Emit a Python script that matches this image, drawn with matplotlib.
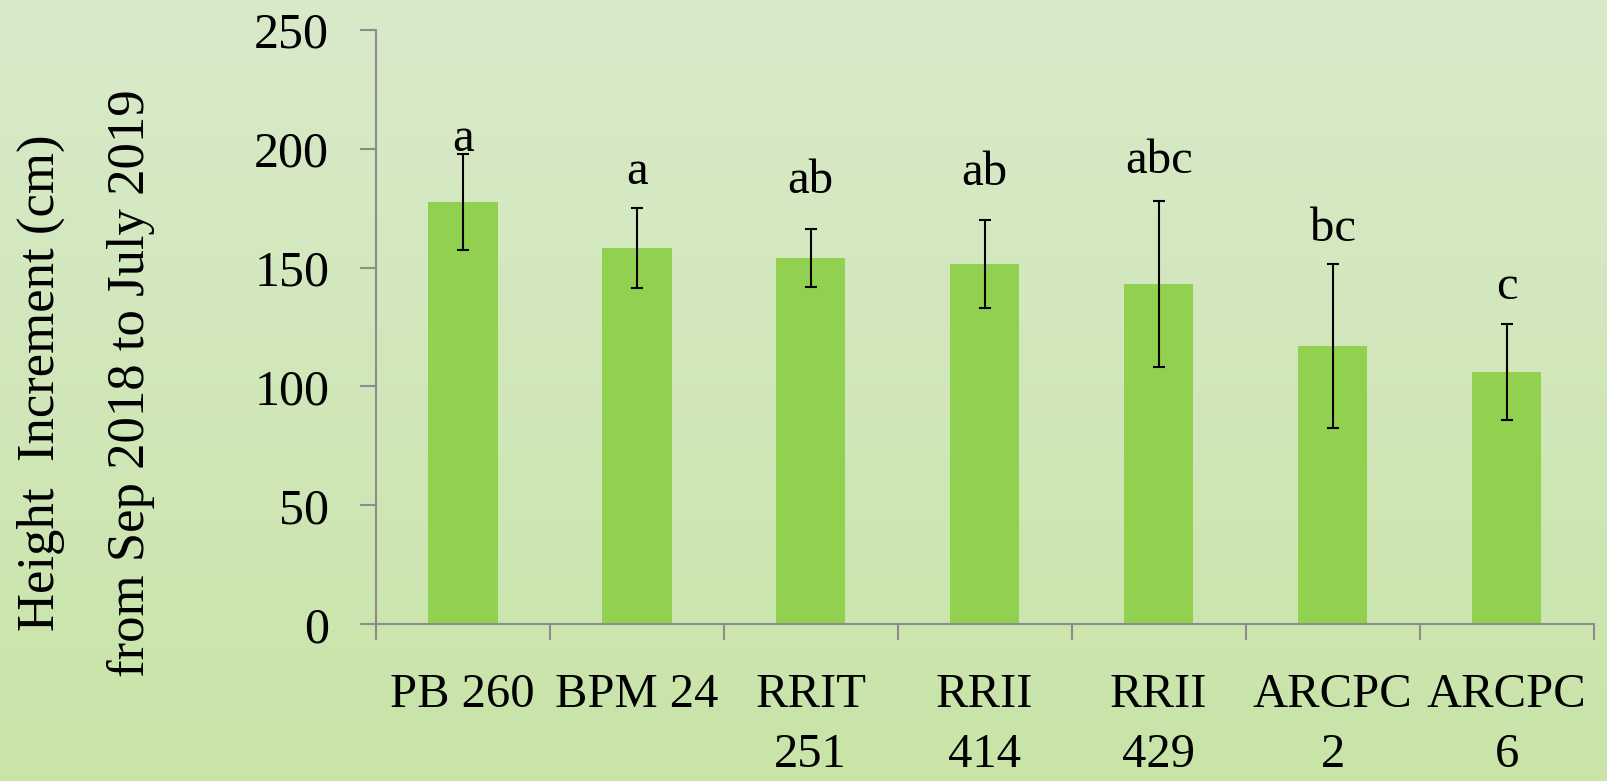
import numpy as np
import matplotlib
matplotlib.use('Agg')
import matplotlib.pyplot as plt

plt.rcParams['font.family'] = ['Liberation Serif', 'DejaVu Serif']

clones = ['PB 260', 'BPM 24', 'RRIT\n251', 'RRII\n414', 'RRII\n429', 'ARCPC\n2', 'ARCPC\n6']
height_inc = [177.6, 158.2, 154.0, 151.5, 143.1, 117.0, 106.1]
height_err = [20.2, 16.9, 12.1, 18.6, 34.9, 34.4, 20.1]
letters = ['a', 'a', 'ab', 'ab', 'abc', 'bc', 'c']
yticks = [0, 50, 100, 150, 200, 250]

fig = plt.figure(figsize=(16.07, 7.81), dpi=100)

# background gradient
bg = fig.add_axes([0, 0, 1, 1], zorder=-1)
top = np.array([217, 234, 203]) / 255
bot = np.array([200, 228, 167]) / 255
t = np.linspace(0, 1, 256)[:, None]
grad = top[None, :] * (1 - t) + bot[None, :] * t
bg.imshow(grad[:, None, :], aspect='auto', extent=[0, 1, 0, 1])
bg.axis('off')

ax = fig.add_axes([0.2338, 0.2006, 0.7579, 0.7614])
ax.set_facecolor('none')

x = np.arange(len(clones))
ax.bar(x, height_inc, width=0.4, color='#92d050', zorder=2,
       yerr=height_err, capsize=4.3,
       error_kw=dict(ecolor='black', elinewidth=1.5, capthick=1.5, zorder=3))

# letter offsets above the error bar tops (points)
offs = [2, 17, 26, 25, 20, 17, 18]
for i in range(len(clones)):
    ax.annotate(letters[i], (x[i], height_inc[i] + height_err[i]),
                xytext=(0, offs[i]), textcoords='offset points',
                ha='center', va='baseline', fontsize=35)

ax.set_xlim(-0.5, len(clones) - 0.5)
ax.set_ylim(0, 250)
ax.set_yticks(yticks)
ax.set_xticks(np.arange(len(clones) + 1) - 0.5)
ax.set_xticklabels([])
ax.set_xticks(x, minor=True)
ax.set_xticklabels(clones, minor=True, fontsize=35, linespacing=1.48)

sc = '#8c8c8c'
for s in ['top', 'right']:
    ax.spines[s].set_visible(False)
for s in ['left', 'bottom']:
    ax.spines[s].set_color(sc)
    ax.spines[s].set_linewidth(1.5)
ax.tick_params(axis='x', which='major', length=11.5, width=1.5, color=sc)
ax.tick_params(axis='x', which='minor', length=0, pad=35)
ax.tick_params(axis='y', length=11.5, width=1.5, color=sc, labelsize=36, pad=22)

fig.text(0.0255, 0.51, 'Height  Increment (cm)', rotation=90,
         ha='center', va='center', fontsize=38)
fig.text(0.0815, 0.51, 'from Sep 2018 to July 2019', rotation=90,
         ha='center', va='center', fontsize=38)

fig.savefig('out.png', dpi=100)
